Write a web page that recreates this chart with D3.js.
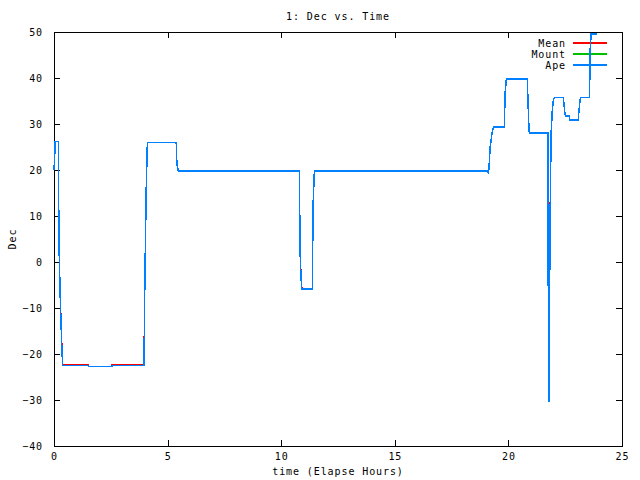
<!DOCTYPE html>
<html>
<head>
<meta charset="utf-8">
<script src="https://cdn.jsdelivr.net/npm/d3@7"></script>
<style>
  body { margin: 0; background: #fff; }
  text { font-family: "DejaVu Sans Mono", monospace; font-size: 10px; letter-spacing: 0.9px; fill: #000; }
</style>
</head>
<body>
<script>
const width = 640;
const height = 480;
const margin = { top: 32, right: 18, bottom: 34, left: 54 };

// elapsed hours of each sample
const time = [
    0.00, 0.03, 0.05, 0.19, 0.20, 0.22, 0.28, 0.34, 0.38,
    1.50, 1.51, 2.55, 2.56, 3.96,
    3.97, 4.00, 4.06, 4.11, 5.38, 5.39, 5.41, 5.47,
    10.80, 10.81, 10.84, 10.90, 10.95, 11.37, 11.38, 11.41, 11.46,
    19.10, 19.12, 19.15, 19.20, 19.27, 19.31, 19.35, 19.82, 19.83, 19.86, 19.91,
    20.83, 20.85, 20.89, 20.92, 21.74, 21.75, 21.78, 21.80, 21.84, 21.88,
    21.93, 21.98, 22.05, 22.42, 22.44, 22.48, 22.51, 22.68, 22.71,
    23.08, 23.10, 23.14, 23.17, 23.56, 23.58, 23.60, 23.64, 23.91
];
const meanDec = [
    20.0, 23.0, 26.2, 26.2, 18.5, 3.7, -8.6, -17.4, -22.4,
    -22.4, -22.7, -22.7, -22.4, -22.4,
    -17.6, -3.7, 16.0, 26.0, 26.0, 24.3, 21.3, 19.8,
    19.8, 13.3, 0.6, -5.5, -5.9, -5.9, 0.6, 13.3, 19.8,
    19.8, 19.1, 20.9, 25.1, 27.6, 28.7, 29.3, 29.3, 31.7, 37.0, 39.8,
    39.8, 36.8, 30.9, 28.0, 28.0, -1.0, -30.4, -16.2, 12.0, 28.0,
    32.7, 35.4, 35.8, 35.8, 34.7, 32.7, 31.7, 31.7, 30.9,
    30.9, 32.7, 34.5, 35.8, 35.8, 39.1, 46.2, 49.6, 49.6
];
const mountDec = [
    20.0, 23.0, 26.2, 26.2, 18.5, 3.7, -8.6, -17.8, -22.5,
    -22.5, -22.7, -22.7, -22.5, -22.5,
    -18.1, -3.7, 16.0, 26.0, 26.0, 24.3, 21.3, 19.8,
    19.8, 13.3, 0.6, -5.9, -5.9, -5.9, 0.6, 13.3, 19.8,
    19.8, 19.1, 20.9, 25.1, 27.6, 28.7, 29.3, 29.3, 31.7, 37.0, 39.8,
    39.8, 36.8, 30.9, 28.0, 28.0, -1.0, -30.4, -16.2, 11.5, 28.0,
    32.7, 35.4, 35.8, 35.8, 34.7, 32.7, 31.7, 31.7, 30.9,
    30.9, 32.7, 34.5, 35.8, 35.8, 39.1, 46.2, 49.6, 49.6
];
const apeDec = [
    20.0, 23.0, 26.2, 26.2, 18.5, 3.7, -8.6, -17.8, -22.5,
    -22.5, -22.7, -22.7, -22.5, -22.5,
    -18.1, -3.7, 16.0, 26.0, 26.0, 24.3, 21.3, 19.8,
    19.8, 13.3, 0.6, -5.9, -5.9, -5.9, 0.6, 13.3, 19.8,
    19.8, 19.1, 20.9, 25.1, 27.6, 28.7, 29.3, 29.3, 31.7, 37.0, 39.8,
    39.8, 36.8, 30.9, 28.0, 28.0, -1.0, -30.4, -16.2, 11.5, 28.0,
    32.7, 35.4, 35.8, 35.8, 34.7, 32.7, 31.7, 31.7, 30.9,
    30.9, 32.7, 34.5, 35.8, 35.8, 39.1, 46.2, 49.6, 49.6
];

const seriesNames = ["Mean", "Mount", "Ape"];
const seriesColors = ["#ff0000", "#00c000", "#0080ff"];
const seriesValues = [meanDec, mountDec, apeDec];

const xTicks = [0, 5, 10, 15, 20, 25];
const yTicks = [-40, -30, -20, -10, 0, 10, 20, 30, 40, 50];

const svg = d3.select("body")
    .append("svg")
    .attr("width", width)
    .attr("height", height);

const x = d3.scaleLinear().domain([0, 25]).range([margin.left, width - margin.right]);
const y = d3.scaleLinear().domain([-40, 50]).range([height - margin.bottom, margin.top]);

// axes, ticks pointing inward on all four sides
svg.append("g")
    .attr("transform", `translate(0,${height - margin.bottom})`)
    .call(d3.axisBottom(x).tickValues(xTicks).tickSize(-6).tickSizeOuter(0).tickPadding(7))
    .call(g => g.select(".domain").remove());

svg.append("g")
    .attr("transform", `translate(0,${margin.top})`)
    .call(d3.axisTop(x).tickValues(xTicks).tickSize(-6).tickSizeOuter(0).tickFormat(""))
    .call(g => g.select(".domain").remove());

svg.append("g")
    .attr("transform", `translate(${margin.left},0)`)
    .call(d3.axisLeft(y).tickValues(yTicks).tickSize(-6).tickSizeOuter(0).tickPadding(11))
    .call(g => g.select(".domain").remove());

svg.append("g")
    .attr("transform", `translate(${width - margin.right},0)`)
    .call(d3.axisRight(y).tickValues(yTicks).tickSize(-6).tickSizeOuter(0).tickFormat(""))
    .call(g => g.select(".domain").remove());

svg.selectAll(".tick line").attr("stroke", "#000").attr("shape-rendering", "crispEdges");
svg.selectAll(".tick text").attr("font-family", null).attr("font-size", null);

svg.append("rect")
    .attr("x", margin.left)
    .attr("y", margin.top)
    .attr("width", width - margin.left - margin.right)
    .attr("height", height - margin.top - margin.bottom)
    .attr("fill", "none")
    .attr("stroke", "#000")
    .attr("shape-rendering", "crispEdges");

// legend
const legend = svg.append("g");
seriesNames.forEach((name, k) => {
    const ly = 43 + k * 11;
    legend.append("text")
        .attr("x", 566)
        .attr("y", ly)
        .attr("dy", "0.35em")
        .attr("text-anchor", "end")
        .text(name);
    legend.append("line")
        .attr("x1", 573)
        .attr("x2", 607)
        .attr("y1", ly)
        .attr("y2", ly)
        .attr("stroke", seriesColors[k])
        .attr("stroke-width", 1.5)
        .attr("shape-rendering", "crispEdges");
});

// series lines, drawn over the legend like gnuplot does
const line = d3.line()
    .x((d, i) => x(time[i]))
    .y(d => y(d));

seriesValues.forEach((vals, k) => {
    svg.append("path")
        .datum(vals)
        .attr("d", line)
        .attr("fill", "none")
        .attr("stroke", seriesColors[k])
        .attr("stroke-width", 1.5)
        .attr("shape-rendering", "crispEdges");
});

// titles
svg.append("text")
    .attr("x", (margin.left + width - margin.right) / 2)
    .attr("y", 16)
    .attr("dy", "0.35em")
    .attr("text-anchor", "middle")
    .text("1: Dec vs. Time");

svg.append("text")
    .attr("x", (margin.left + width - margin.right) / 2)
    .attr("y", 471)
    .attr("dy", "0.35em")
    .attr("text-anchor", "middle")
    .text("time (Elapse Hours)");

svg.append("text")
    .attr("transform", `translate(12,${(margin.top + height - margin.bottom) / 2}) rotate(-90)`)
    .attr("dy", "0.35em")
    .attr("text-anchor", "middle")
    .text("Dec");
</script>
</body>
</html>
